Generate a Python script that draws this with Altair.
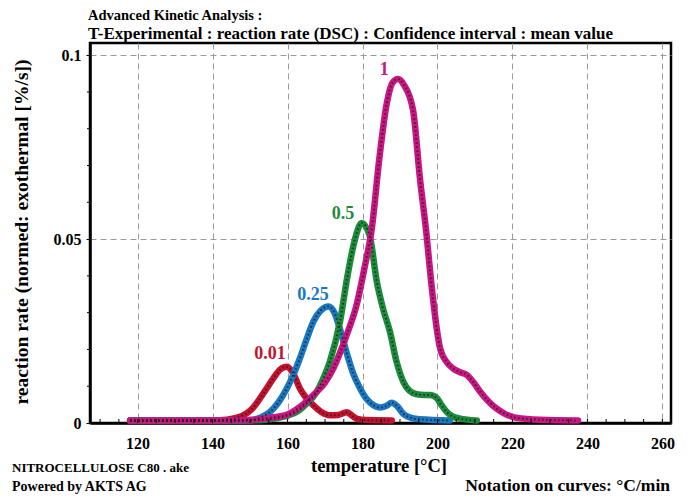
import altair as alt
import pandas as pd

# ---- data ----
t_1 = [118, 140, 150, 152.6, 156, 159.8, 163.5, 166.9, 170, 172.2, 175.8, 178.4, 180.5, 182.5, 184.5, 186.5, 188, 189.5,
       191, 193.5, 195.3, 197.1, 198.3, 200.7, 202.5, 204.2, 206, 207.8, 209.5, 211.4, 213.5, 215.8, 218, 220.2, 224, 227.4, 237.5]
r_1 = [0.0007, 0.0007, 0.0008, 0.0011, 0.0015, 0.0022, 0.0045, 0.0076, 0.011, 0.0148, 0.024, 0.032, 0.042, 0.053, 0.072, 0.087, 0.0925, 0.0935,
       0.092, 0.085, 0.0667, 0.051, 0.0385, 0.0203, 0.0165, 0.0148, 0.0138, 0.0131, 0.0112, 0.0085, 0.006, 0.0039, 0.0025, 0.0016, 0.0011, 0.0009, 0.0007]

t_05 = [118, 150, 154, 157.1, 160, 162.4, 165, 167.8, 169.5, 171.3, 174, 176, 178, 179.8, 181.9, 183.8, 185.5, 187.3, 189,
        190.9, 192.5, 194.5, 196.5, 198, 199.8, 201, 202.5, 204, 206, 210.5]
r_05 = [0.0007, 0.0007, 0.0009, 0.0013, 0.002, 0.003, 0.0052, 0.0085, 0.012, 0.0167, 0.0276, 0.040, 0.050, 0.0544, 0.051, 0.0385, 0.031, 0.0249, 0.017,
        0.0112, 0.0088, 0.0078, 0.0076, 0.0076, 0.0068, 0.005, 0.003, 0.0018, 0.0012, 0.0007]

t_025 = [118, 148, 150.9, 153, 155.3, 157.5, 159.8, 161.5, 163.3, 165, 166.9, 168.8, 170.9, 172.5, 174, 175.8, 177.5, 179.3,
         181.1, 183, 184.7, 186.3, 187.8, 189.3, 190.9, 193, 195.3, 203.3]
r_025 = [0.0007, 0.0007, 0.0009, 0.0016, 0.003, 0.0055, 0.0094, 0.013, 0.0176, 0.0225, 0.0276, 0.0305, 0.0317, 0.030, 0.0255, 0.019, 0.0135, 0.0095,
         0.0065, 0.0048, 0.0042, 0.0046, 0.0055, 0.0045, 0.0025, 0.0014, 0.001, 0.0007]

t_001 = [118, 140, 143.8, 146, 148.2, 150.5, 152.6, 154.5, 156.2, 158, 159.8, 161.5, 163.3, 165, 166.9, 169, 171.3, 173.5,
         175.8, 177, 178.4, 181, 187.8]
r_001 = [0.0007, 0.0007, 0.0009, 0.0013, 0.0021, 0.0038, 0.0066, 0.0095, 0.0121, 0.0145, 0.0153, 0.0135, 0.0094, 0.0068, 0.0048, 0.003, 0.0021, 0.0022,
         0.0029, 0.0022, 0.0012, 0.0008, 0.0007]

series_names = ["0.01", "0.25", "0.5", "1"]
series_colors = ["#c4122f", "#1a78c2", "#1c8c3c", "#c81682"]

label_t = [155.3, 166.8, 174.8, 185.8]
label_r = [0.0174, 0.0334, 0.0555, 0.0945]

x_major = [120, 140, 160, 180, 200, 220, 240, 260]
x_minor = list(range(110, 265, 5))
y_major = [0, 0.05, 0.1]
y_minor = [0.01, 0.02, 0.03, 0.04, 0.06, 0.07, 0.08, 0.09]

FONT = "Liberation Serif"

rows = []
for name, ts, rs in zip(series_names, [t_001, t_025, t_05, t_1], [r_001, r_025, r_05, r_1]):
    for i, (t, r) in enumerate(zip(ts, rs)):
        rows.append({"series": name, "T": t, "rate": r, "order": i})
df = pd.DataFrame(rows)
lab = pd.DataFrame({"series": series_names, "T": label_t, "rate": label_r})

xscale = alt.Scale(domain=[107.3, 262.3], nice=False, zero=False)
yscale = alt.Scale(domain=[0, 0.1033], nice=False, zero=False)
cscale = alt.Scale(domain=series_names, range=series_colors)

xaxis = alt.Axis(values=x_major, title=None, grid=True, tickSize=0, labelPadding=12,
                 labelOverlap=False, format="d")
yaxis = alt.Axis(values=y_major, title=None, grid=True, tickSize=4, labelPadding=5,
                 labelOverlap=False, labelExpr="datum.value == 0 ? '0' : format(datum.value, '.2~f')")

base = alt.Chart(df).encode(
    x=alt.X("T:Q", scale=xscale, axis=xaxis),
    y=alt.Y("rate:Q", scale=yscale, axis=yaxis),
    detail="series:N",
    order="order:Q",
)
thick = base.mark_line(strokeWidth=6.5, interpolate="monotone", strokeCap="round", strokeJoin="round").encode(
    color=alt.Color("series:N", scale=cscale, legend=None)
)
dots = base.mark_line(strokeWidth=2, interpolate="monotone", color="#1a1a1a", opacity=0.75, strokeDash=[1.5, 2.5])

labels = alt.Chart(lab).mark_text(font=FONT, fontWeight="bold", fontSize=18, align="center", baseline="alphabetic").encode(
    x=alt.X("T:Q", scale=xscale), y=alt.Y("rate:Q", scale=yscale), text="series:N",
    color=alt.Color("series:N", scale=cscale, legend=None),
)

xminor = alt.Chart(pd.DataFrame({"T": x_minor})).mark_rule(color="black", strokeWidth=1).encode(
    x=alt.X("T:Q", scale=xscale), y=alt.value(376), y2=alt.value(380)
)
yminor = alt.Chart(pd.DataFrame({"rate": y_minor})).mark_rule(color="black", strokeWidth=1).encode(
    y=alt.Y("rate:Q", scale=yscale), x=alt.value(-3), x2=alt.value(0)
)


def txt(s, x, y, size=15, align="left", angle=0, baseline="alphabetic"):
    return alt.Chart(pd.DataFrame({"s": [s]})).mark_text(
        font=FONT, fontWeight="bold", fontSize=size, align=align, baseline=baseline, angle=angle, color="black"
    ).encode(x=alt.value(x), y=alt.value(y), text="s:N")


texts = [
    txt("Advanced Kinetic Analysis :", -2, -23, 14.5),
    txt("T-Experimental : reaction rate (DSC) : Confidence interval : mean value", -2, -4, 17),
    txt("temperature [°C]", 289, 429, 18.5, "center"),
    txt("NITROCELLULOSE C80 . ake", -78, 429, 13),
    txt("Powered by AKTS AG", -78, 448, 14),
    txt("Notation on curves: °C/min", 580, 448, 17.5, "right"),
    txt("reaction rate (normed: exothermal [%/s])", -68, 189, 19.5, "center", 270, "middle"),
]

chart = alt.layer(thick, dots, labels, xminor, yminor, *texts).properties(
    width=581, height=380,
    autosize=alt.AutoSizeParams(type="none"),
    padding={"left": 82, "top": 35, "right": 12, "bottom": 71},
).configure_view(
    stroke="black", strokeWidth=2.5
).configure_axis(
    domainColor="black", domainWidth=2.5, tickColor="black", tickWidth=1,
    labelFont=FONT, labelFontWeight="bold", labelFontSize=16, labelColor="black",
    gridColor="#9a9a9a", gridDash=[6, 4], gridWidth=1,
)

chart.save("out.html", embed_options={"renderer": "svg", "actions": False})
